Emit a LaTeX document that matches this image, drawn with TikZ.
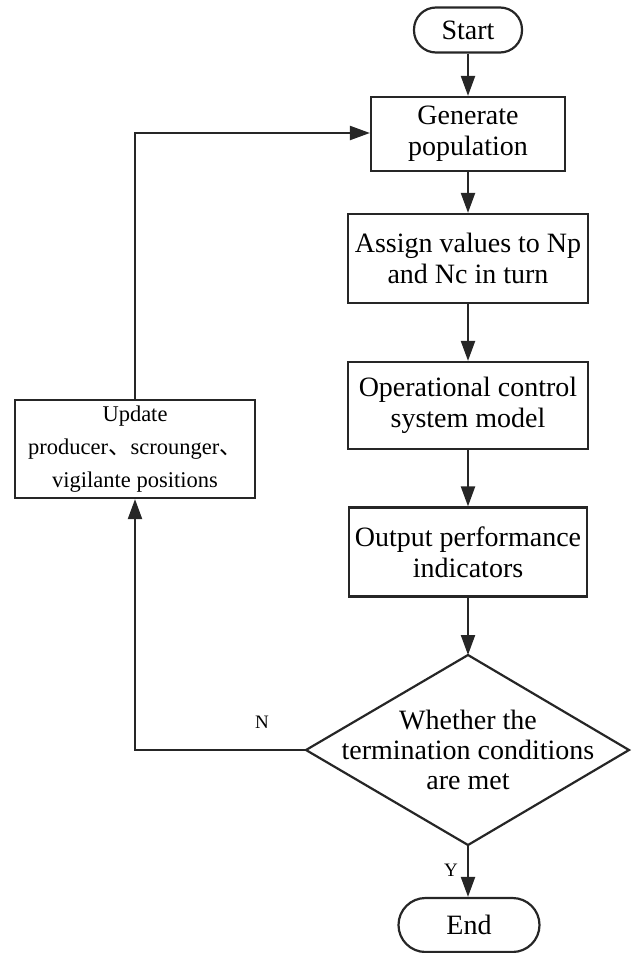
\documentclass[tikz,border=0pt]{standalone}
\usepackage{fontspec}
\setmainfont{Liberation Serif}
\newfontfamily\cjkfont{Noto Sans CJK SC}
\usetikzlibrary{arrows.meta}
\begin{document}
\begin{tikzpicture}[x=1pt,y=-1pt,
  line width=2.2pt, draw=black!85,
  box/.style={draw, rectangle, align=center, inner sep=2pt,
    font=\fontsize{28}{31}\selectfont},
  pill/.style={draw, rectangle, rounded corners=22pt, align=center,
    font=\fontsize{28}{30}\selectfont},
  flow/.style={-{Triangle[length=20pt,width=14pt]}},
  tag/.style={font=\fontsize{19}{20}\selectfont}]
\useasboundingbox (0,0) rectangle (635,953);
\node[pill, minimum width=108pt, minimum height=45pt] (start) at (468,30) {Start};
\node[box, minimum width=194pt, minimum height=74pt] (gen) at (468,134) {Generate\\population};
\node[box, minimum width=240pt, minimum height=89pt] (assign) at (468,258.5) {Assign values to Np\\and Nc in turn};
\node[box, minimum width=240pt, minimum height=87pt] (oper) at (468,405.5) {Operational control\\system model};
\node[box, minimum width=238pt, minimum height=89pt] (out) at (468,552) {Output performance\\indicators};

% decision diamond: outline from its four corners, text centred inside
\coordinate (dtop) at (468,655);
\coordinate (dright) at (629,750);
\coordinate (dbottom) at (468,845);
\coordinate (dleft) at (306,750);
\draw (dtop) -- (dright) -- (dbottom) -- (dleft) -- cycle;
\node[align=center, font=\fontsize{28}{30}\selectfont] (cond) at (468,750)
  {Whether the\\termination conditions\\are met};

\node[pill, minimum width=141pt, minimum height=54pt, rounded corners=27pt] (end) at (469,925) {End};
\node[box, minimum width=240pt, minimum height=98pt, font=\fontsize{22.5}{33}\selectfont] (upd) at (135,449)
  {Update\\producer{\cjkfont 、}scrounger{\cjkfont 、}\\vigilante positions};
\coordinate (ncorner) at (135,750);
\coordinate (tcorner) at (135,133);

\draw[flow] (start) -- (gen);
\draw[flow] (gen) -- (assign);
\draw[flow] (assign) -- (oper);
\draw[flow] (oper) -- (out);
\draw[flow] (out) -- (dtop);
\draw[flow] (dbottom) -- (end.north -| dbottom);
\draw[flow] (dleft) -- (ncorner) -- (upd.south);
\draw[flow] (upd.north) -- (tcorner) -- (tcorner -| gen.west);

\node[tag] (nlab) at (262,722) {N};
\node[tag] (ylab) at (451,870) {Y};
\end{tikzpicture}
\end{document}
